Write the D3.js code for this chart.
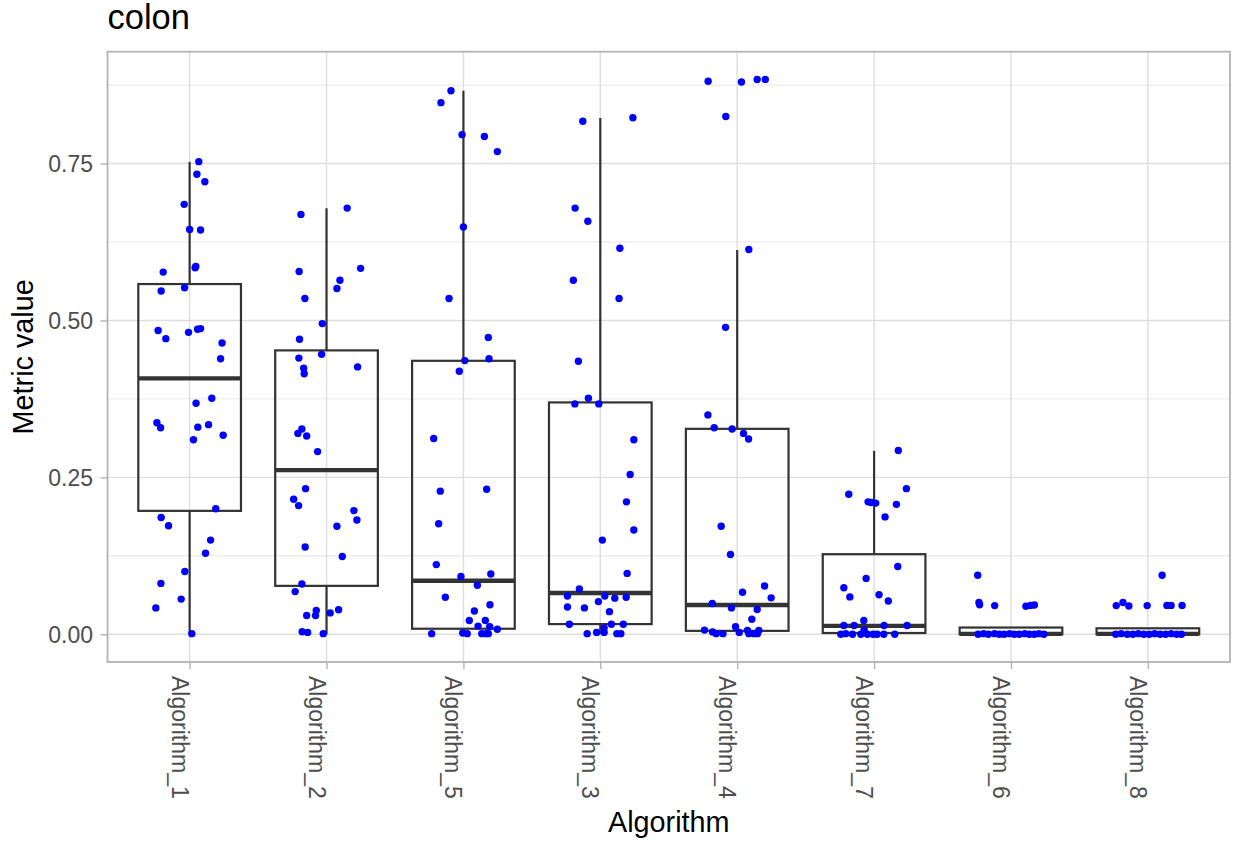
<!DOCTYPE html>
<html>
<head>
<meta charset="utf-8">
<script src="https://cdn.jsdelivr.net/npm/d3@7"></script>
<style>
  html, body { margin: 0; padding: 0; background: #ffffff; }
  svg { display: block; font-family: "Liberation Sans", Arial, Helvetica, sans-serif; }
</style>
</head>
<body>
<svg id="chart" width="1235" height="843"></svg>
<script>
// ---------------- DATA ----------------
const chartTitle = "colon";
const xTitle = "Algorithm";
const yTitle = "Metric value";

const categories = ["Algorithm_1", "Algorithm_2", "Algorithm_5", "Algorithm_3",
                    "Algorithm_4", "Algorithm_7", "Algorithm_6", "Algorithm_8"];

// box statistics, in category order
const whiskerLow  = [0.000, 0.000, 0.000, 0.000, 0.000, 0.000, 0.000, 0.000];
const q1          = [0.1966, 0.0771, 0.0088, 0.0162, 0.0054, 0.0020, 0.0000, 0.0000];
const medians     = [0.4077, 0.2615, 0.0853, 0.0658, 0.0467, 0.0133, 0.0006, 0.0006];
const q3          = [0.5580, 0.4523, 0.4357, 0.3694, 0.3273, 0.1276, 0.0107, 0.0095];
const whiskerHigh = [0.7526, 0.6787, 0.8660, 0.8225, 0.6122, 0.2923, 0.0107, 0.0095];

// jittered points: [jitter offset (fraction of category step), value]
const pointsAlg1 = [[0.067,0.753],[0.053,0.733],[0.111,0.721],[-0.040,0.685],[0.000,0.645],[0.080,0.644],
  [-0.193,0.577],[0.040,0.584],[0.045,0.586],[-0.208,0.547],[-0.037,0.552],[-0.230,0.484],[-0.174,0.471],
  [-0.008,0.481],[0.058,0.486],[0.080,0.487],[0.237,0.464],[0.226,0.439],[0.047,0.368],[0.162,0.376],
  [-0.239,0.337],[-0.212,0.329],[0.060,0.330],[0.138,0.334],[0.245,0.317],[0.028,0.310],[0.191,0.200],
  [-0.208,0.186],[-0.154,0.173],[0.153,0.150],[0.116,0.129],[-0.035,0.100],[-0.210,0.081],[-0.062,0.056],
  [-0.247,0.042],[0.016,0.001]];
const pointsAlg2 = [[0.151,0.679],[-0.187,0.669],[-0.200,0.578],[0.249,0.583],[0.098,0.564],[0.076,0.551],
  [-0.158,0.535],[-0.031,0.495],[-0.197,0.470],[-0.036,0.446],[-0.202,0.440],[0.227,0.426],[-0.167,0.424],
  [-0.163,0.415],[-0.180,0.327],[-0.209,0.320],[-0.145,0.316],[-0.065,0.291],[-0.153,0.232],[-0.240,0.215],
  [-0.204,0.205],[0.200,0.197],[0.222,0.182],[0.076,0.172],[-0.156,0.139],[0.115,0.124],[-0.180,0.080],
  [-0.229,0.068],[-0.075,0.038],[0.088,0.039],[0.027,0.034],[-0.145,0.030],[-0.080,0.030],[-0.178,0.004],
  [-0.138,0.003],[-0.024,0.001]];
const pointsAlg5 = [[-0.091,0.866],[-0.164,0.847],[-0.010,0.796],[0.153,0.793],[0.248,0.769],[0.000,0.649],
  [-0.105,0.535],[0.182,0.473],[0.187,0.439],[0.010,0.436],[-0.030,0.419],[-0.217,0.312],[-0.169,0.228],
  [0.170,0.231],[-0.181,0.176],[-0.198,0.111],[-0.018,0.092],[0.200,0.096],[0.102,0.078],[-0.132,0.059],
  [0.194,0.047],[0.080,0.037],[0.043,0.022],[0.160,0.022],[0.107,0.013],[0.192,0.012],[0.248,0.008],
  [-0.232,0.001],[-0.005,0.002],[0.028,0.001],[0.134,0.001],[0.165,0.001],[0.182,0.001]];
const pointsAlg3 = [[-0.128,0.8175],[0.238,0.823],[-0.184,0.679],[-0.091,0.658],[0.143,0.615],[-0.197,0.564],
  [0.137,0.535],[-0.160,0.435],[-0.087,0.376],[-0.186,0.367],[-0.011,0.367],[0.245,0.310],[0.218,0.2545],
  [0.191,0.211],[0.245,0.166],[0.015,0.150],[0.196,0.097],[-0.153,0.072],[-0.240,0.061],[0.033,0.061],
  [0.106,0.0575],[0.189,0.059],[-0.240,0.0435],[-0.116,0.042],[-0.014,0.052],[0.067,0.036],[-0.226,0.016],
  [0.081,0.016],[0.168,0.016],[-0.096,0.001],[-0.027,0.003],[0.028,0.003],[0.028,0.010],[0.121,0.001],
  [0.150,0.001]];
const pointsAlg4 = [[-0.212,0.881],[0.031,0.880],[0.146,0.884],[0.205,0.884],[-0.083,0.825],[0.085,0.613],
  [-0.085,0.489],[-0.214,0.3495],[-0.168,0.329],[-0.037,0.327],[0.046,0.320],[0.083,0.311],[-0.117,0.172],
  [-0.049,0.127],[0.039,0.067],[0.200,0.077],[0.248,0.058],[-0.182,0.049],[-0.042,0.042],[0.146,0.0395],
  [0.107,0.024],[-0.012,0.012],[-0.239,0.0066],[-0.180,0.0036],[-0.153,0.001],[-0.104,0.001],[0.015,0.003],
  [0.075,0.006],[0.085,0.001],[0.122,0.001],[0.158,0.006],[0.148,0.001]];
const pointsAlg7 = [[0.177,0.2928],[-0.185,0.223],[0.236,0.232],[-0.044,0.211],[-0.022,0.210],[0.012,0.209],
  [0.163,0.207],[0.080,0.187],[0.173,0.108],[-0.058,0.089],[-0.221,0.074],[-0.177,0.0595],[0.036,0.063],
  [0.104,0.053],[-0.075,0.022],[-0.221,0.014],[-0.146,0.014],[0.073,0.014],[0.241,0.014],[-0.073,0.007],
  [-0.243,0.000],[-0.207,0.001],[-0.158,0.000],[-0.097,0.000],[-0.049,0.000],[-0.007,0.000],[0.022,0.000],
  [0.071,0.000],[0.151,0.000]];
const pointsAlg6 = [[-0.243,0.094],[-0.234,0.0505],[-0.229,0.047],[-0.119,0.0457],[0.109,0.0446],[0.142,0.046],
  [0.171,0.0467],[-0.240,0.000],[-0.200,0.001],[-0.165,0.000],[-0.120,0.001],[-0.085,0.000],[-0.050,0.000],
  [-0.010,0.001],[0.025,0.000],[0.060,0.000],[0.100,0.001],[0.135,0.000],[0.170,0.000],[0.205,0.001],[0.240,0.000]];
const pointsAlg8 = [[0.104,0.094],[-0.231,0.0457],[-0.182,0.0505],[-0.139,0.045],[-0.005,0.0457],[0.139,0.046],
  [0.170,0.046],[0.250,0.046],[-0.235,0.000],[-0.195,0.001],[-0.150,0.000],[-0.110,0.000],[-0.070,0.001],
  [-0.030,0.000],[0.010,0.000],[0.050,0.001],[0.090,0.000],[0.130,0.000],[0.170,0.001],[0.210,0.000],[0.245,0.000]];
const pointsByCategory = [pointsAlg1, pointsAlg2, pointsAlg5, pointsAlg3, pointsAlg4, pointsAlg7, pointsAlg6, pointsAlg8];

const yMajorTicks = [0, 0.25, 0.50, 0.75];
const yTickLabels = ["0.00", "0.25", "0.50", "0.75"];
const yMinorTicks = [0.125, 0.375, 0.625, 0.875];

// ---------------- DRAW ----------------
const svg = d3.select("#chart");
const panel = { left: 107.5, right: 1230, top: 51.7, bottom: 662 };

const x = d3.scalePoint().domain(categories).range([panel.left, panel.right]).padding(0.6);
const step = x.step();

const allVals = pointsByCategory.flat().map(d => d[1]).concat(whiskerHigh, whiskerLow);
const yMin = d3.min(allVals), yMax = d3.max(allVals);
const pad = (yMax - yMin) * 0.05;
const y = d3.scaleLinear().domain([yMin - pad, yMax + pad]).range([panel.bottom, panel.top]);

const gridColor = "#DEDEDE";
const boxColor = "#333333";

// panel background
svg.append("rect").attr("x", panel.left).attr("y", panel.top)
  .attr("width", panel.right - panel.left).attr("height", panel.bottom - panel.top)
  .attr("fill", "#ffffff");

// grid
const grid = svg.append("g");
grid.selectAll(".minor").data(yMinorTicks).join("line")
  .attr("x1", panel.left).attr("x2", panel.right)
  .attr("y1", d => y(d)).attr("y2", d => y(d))
  .attr("stroke", gridColor).attr("stroke-width", 0.75);
grid.selectAll(".major").data(yMajorTicks).join("line")
  .attr("x1", panel.left).attr("x2", panel.right)
  .attr("y1", d => y(d)).attr("y2", d => y(d))
  .attr("stroke", gridColor).attr("stroke-width", 1.4);
grid.selectAll(".vmajor").data(categories).join("line")
  .attr("x1", d => x(d)).attr("x2", d => x(d))
  .attr("y1", panel.top).attr("y2", panel.bottom)
  .attr("stroke", gridColor).attr("stroke-width", 1.4);

// boxplots
const boxW = step * 0.75;
const boxes = svg.append("g").selectAll("g").data(categories).join("g");
boxes.append("line")
  .attr("x1", d => x(d)).attr("x2", d => x(d))
  .attr("y1", (d, i) => y(q3[i])).attr("y2", (d, i) => y(whiskerHigh[i]))
  .attr("stroke", boxColor).attr("stroke-width", 2.2);
boxes.append("line")
  .attr("x1", d => x(d)).attr("x2", d => x(d))
  .attr("y1", (d, i) => y(q1[i])).attr("y2", (d, i) => y(whiskerLow[i]))
  .attr("stroke", boxColor).attr("stroke-width", 2.2);
boxes.append("rect")
  .attr("x", d => x(d) - boxW / 2).attr("width", boxW)
  .attr("y", (d, i) => y(q3[i]))
  .attr("height", (d, i) => Math.max(0, y(q1[i]) - y(q3[i])))
  .attr("fill", "none").attr("stroke", boxColor).attr("stroke-width", 2.2);
boxes.append("line")
  .attr("x1", d => x(d) - boxW / 2).attr("x2", d => x(d) + boxW / 2)
  .attr("y1", (d, i) => y(medians[i])).attr("y2", (d, i) => y(medians[i]))
  .attr("stroke", boxColor).attr("stroke-width", 4.4);

// jittered points
const pts = svg.append("g");
categories.forEach((c, i) => {
  pts.selectAll(null).data(pointsByCategory[i]).join("circle")
    .attr("cx", d => x(c) + d[0] * step)
    .attr("cy", d => y(d[1]))
    .attr("r", 3.7)
    .attr("fill", "#0000FF");
});

// panel border
svg.append("rect").attr("x", panel.left).attr("y", panel.top)
  .attr("width", panel.right - panel.left).attr("height", panel.bottom - panel.top)
  .attr("fill", "none").attr("stroke", "#B3B3B3").attr("stroke-width", 1.8);

// y axis
const yAxis = d3.axisLeft(y).tickValues(yMajorTicks)
  .tickFormat((d, i) => yTickLabels[i]).tickSize(7).tickPadding(7.5);
const gy = svg.append("g").attr("transform", `translate(${panel.left},0)`).call(yAxis);
gy.select(".domain").remove();
gy.selectAll(".tick line").attr("stroke", "#B3B3B3").attr("stroke-width", 1.4);
gy.selectAll(".tick text").attr("fill", "#4D4D4D")
  .style("font-size", "23px").style("font-family", "'Liberation Sans', Arial, sans-serif")
  .attr("dy", "0.35em");

// x axis
const xAxis = d3.axisBottom(x).tickSize(7);
const gx = svg.append("g").attr("transform", `translate(0,${panel.bottom})`).call(xAxis);
gx.select(".domain").remove();
gx.selectAll(".tick line").attr("stroke", "#B3B3B3").attr("stroke-width", 1.4);
gx.selectAll(".tick text")
  .attr("fill", "#4D4D4D")
  .style("font-size", "23px").style("font-family", "'Liberation Sans', Arial, sans-serif")
  .attr("transform", "rotate(90)")
  .attr("x", 14).attr("y", 18.5).attr("dy", null)
  .attr("text-anchor", "start");

// titles
svg.append("text").attr("x", panel.left).attr("y", 29.3)
  .attr("fill", "#000").style("font-size", "34.5px").text(chartTitle);
svg.append("text").attr("x", (panel.left + panel.right) / 2).attr("y", 832.3)
  .attr("text-anchor", "middle").attr("fill", "#000").style("font-size", "28.8px").text(xTitle);
svg.append("text")
  .attr("transform", `translate(33.3,${(panel.top + panel.bottom) / 2}) rotate(-90)`)
  .attr("text-anchor", "middle").attr("fill", "#000").style("font-size", "28.8px").text(yTitle);
</script>
</body>
</html>
